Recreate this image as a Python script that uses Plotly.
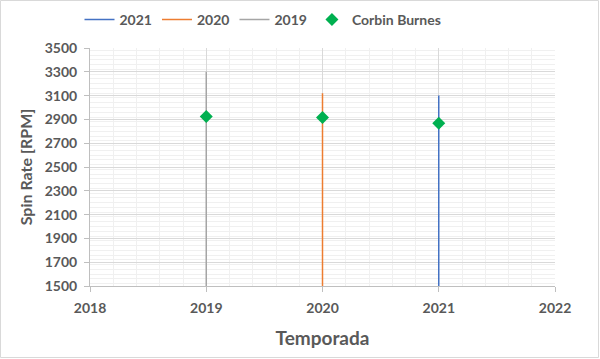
import plotly.graph_objects as go

seasons = [2021, 2020, 2019]
season_names = ["2021", "2020", "2019"]
season_colors = ["#4472C4", "#ED7D31", "#A5A5A5"]
line_bottom = [1500, 1500, 1500]
line_top = [3100, 3120, 3300]

burnes_years = [2019, 2020, 2021]
burnes_spin = [2925, 2915, 2868]

x_ticks = [2018, 2019, 2020, 2021, 2022]
y_ticks = [1500, 1700, 1900, 2100, 2300, 2500, 2700, 2900, 3100, 3300, 3500]

W, H = 600, 359
L, R, T, B = 90, 45, 48, 73

fig = go.Figure()
for yr, nm, col, lo, hi in zip(seasons, season_names, season_colors, line_bottom, line_top):
    fig.add_trace(go.Scatter(x=[yr, yr], y=[lo, hi], mode="lines", name=nm,
                             line=dict(color=col, width=1.5)))
fig.add_trace(go.Scatter(x=burnes_years, y=burnes_spin, mode="markers", name="Corbin Burnes",
                         marker=dict(symbol="diamond", color="#00B050", size=10)))

fnt = "Lato, Open Sans, sans-serif"
tick_font = dict(family=fnt, size=14, color="#595959", weight="bold")
title_font = dict(family=fnt, size=19, color="#595959", weight="bold")

pw, ph = W - L - R, H - T - B

fig.update_layout(
    width=W, height=H,
    margin=dict(l=L, r=R, t=T, b=B, autoexpand=False),
    paper_bgcolor="white", plot_bgcolor="white",
    showlegend=True,
    legend=dict(orientation="h", x=(263 - L) / pw, xanchor="center", y=1 + (T - 20) / ph, yanchor="middle",
                font=dict(family=fnt, size=14, color="#595959", weight="bold"),
                itemwidth=30, tracegroupgap=0, bgcolor="rgba(0,0,0,0)"),
    xaxis=dict(range=[2018, 2022], tickvals=x_ticks, ticktext=[str(v) for v in x_ticks],
               showgrid=True, gridcolor="#D9D9D9", gridwidth=1,
               minor=dict(dtick=0.2, showgrid=True, gridcolor="#F0F0F0", gridwidth=1),
               showline=True, linecolor="#BFBFBF", linewidth=1,
               ticks="outside", ticklen=5, tickcolor="#BFBFBF", ticklabelstandoff=4,
               tickfont=tick_font, zeroline=False, automargin=False,
               title=dict(text="Temporada", font=title_font, standoff=16)),
    yaxis=dict(range=[1500, 3500], tickvals=y_ticks, ticktext=[str(v) for v in y_ticks],
               showgrid=True, gridcolor="#D9D9D9", gridwidth=1,
               minor=dict(dtick=40, showgrid=True, gridcolor="#F0F0F0", gridwidth=1),
               showline=True, linecolor="#BFBFBF", linewidth=1,
               ticks="outside", ticklen=5, tickcolor="#BFBFBF", ticklabelstandoff=4,
               tickfont=tick_font, zeroline=False, automargin=False,
               title=dict(text="Spin Rate [RPM]", font=dict(title_font, size=16), standoff=8)),
)

fig.add_shape(type="rect", xref="paper", yref="paper",
              x0=-(L - 0.5) / pw, x1=1 + (R - 1.5) / pw,
              y0=-(B - 1.5) / ph, y1=1 + (T - 0.5) / ph,
              line=dict(color="#D9D9D9", width=1), fillcolor="rgba(0,0,0,0)", layer="below")

fig.write_html("out.html", config={"displayModeBar": False},
               post_script="document.body.style.margin='0';")
